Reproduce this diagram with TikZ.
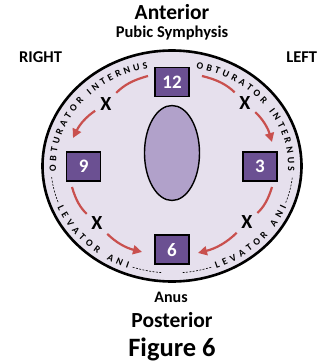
\documentclass[tikz,border=0pt]{standalone}
\usepackage{fontspec}
\setmainfont{Carlito}
\usetikzlibrary{decorations.text,arrows.meta}
\definecolor{lav}{HTML}{E6E0ED}
\definecolor{boxpurple}{HTML}{6B5092}
\definecolor{ovalc}{HTML}{B1A1CA}
\definecolor{arrred}{HTML}{C9504E}
\begin{document}
\begin{tikzpicture}[x=1pt,y=1pt,
  numbox/.style={draw=black,line width=1.6pt,fill=boxpurple,minimum width=34pt,minimum height=29pt,inner sep=0pt,text=white,font=\fontsize{19}{19}\selectfont\bfseries},
  xmark/.style={inner sep=1pt,font=\fontsize{20}{20}\selectfont\bfseries},
  redarc/.style={draw=arrred,line width=2.2pt},
  redarrow/.style={redarc,-{Triangle[length=9pt,width=9pt]}},
  lbl/.style={anchor=base,inner sep=0pt,font=\bfseries},
  dashline/.style={line width=0.6pt,dash pattern=on 2pt off 1.4pt},
  curvetext/.style={decorate,decoration={text along path,text align={fit to path},text={|\fontsize{9.8}{9.8}\selectfont\bfseries|#1}}}
]
\useasboundingbox (-172,-196) rectangle (157,166);
% outer ellipse
\draw[fill=lav,line width=2.6pt] (0,0) ellipse [x radius=129.5, y radius=115.5];
% curved labels
\path[curvetext={OBTURATOR INTERNUS}] (183:116 and 100) arc[start angle=183,end angle=102,x radius=116,y radius=100];
\path[curvetext={OBTURATOR INTERNUS}] (78:116 and 100) arc[start angle=78,end angle=-3,x radius=116,y radius=100];
\path[curvetext={LEVATOR ANI}] (202:123.5 and 110) arc[start angle=202,end angle=249,x radius=123.5,y radius=110];
\path[curvetext={LEVATOR ANI}] (291:123.5 and 110) arc[start angle=291,end angle=338,x radius=123.5,y radius=110];
\draw[dashline] (186:121 and 107) arc[start angle=186,end angle=200,x radius=121,y radius=107];
\draw[dashline] (251:121 and 107) arc[start angle=251,end angle=265,x radius=121,y radius=107];
\draw[dashline] (275:121 and 107) arc[start angle=275,end angle=289,x radius=121,y radius=107];
\draw[dashline] (340:121 and 107) arc[start angle=340,end angle=354,x radius=121,y radius=107];
% inner oval
\draw[fill=ovalc,line width=1.4pt] (0,13) ellipse [x radius=27.5, y radius=47.5];
% boxes
\node[numbox] (n12) at (0,84) {12};
\node[numbox] (n9) at (-88.3,-0.5) {9};
\node[numbox] (n3) at (88,-0.5) {3};
\node[numbox] (n6) at (0,-83.7) {6};
% X marks
\node[xmark] (xUL) at (-66,62) {X};
\node[xmark] (xUR) at (73,63) {X};
\node[xmark] (xLL) at (-75,-57) {X};
\node[xmark] (xLR) at (75,-56) {X};
% arrow ends
\coordinate (s1) at (-24,90);
\coordinate (t1) at (-99,28);
\coordinate (s2) at (30,90);
\coordinate (t2) at (100,24);
\coordinate (s3) at (-100,-21);
\coordinate (t3) at (-30,-86);
\coordinate (s4) at (100,-21);
\coordinate (t4) at (26,-87);
\draw[redarc,shorten >=5pt] (s1) to[bend right=15] (xUL);
\draw[redarrow,shorten <=5pt] (xUL) to[bend right=15] (t1);
\draw[redarc,shorten >=5pt] (s2) to[bend left=15] (xUR);
\draw[redarrow,shorten <=5pt] (xUR) to[bend left=15] (t2);
\draw[redarc,shorten >=5pt] (s3) to[bend right=15] (xLL);
\draw[redarrow,shorten <=5pt] (xLL) to[bend right=15] (t3);
\draw[redarc,shorten >=5pt] (s4) to[bend left=15] (xLR);
\draw[redarrow,shorten <=5pt] (xLR) to[bend left=15] (t4);
% labels
\node[lbl,font=\fontsize{21.5}{21.5}\selectfont\bfseries] (ant) at (0,146.7) {Anterior};
\node[lbl,font=\fontsize{16.5}{16.5}\selectfont\bfseries] (pub) at (0,128.3) {Pubic Symphysis};
\node[lbl,font=\fontsize{16.5}{16.5}\selectfont\bfseries] (right) at (-131.4,103.7) {RIGHT};
\node[lbl,font=\fontsize{16.5}{16.5}\selectfont\bfseries] (left) at (129.7,103.7) {LEFT};
\node[lbl,font=\fontsize{16}{16}\selectfont\bfseries] (anus) at (-1,-136.3) {Anus};
\node[lbl,font=\fontsize{21.5}{21.5}\selectfont\bfseries] (post) at (0,-161.7) {Posterior};
\node[lbl,font=\fontsize{26.5}{26.5}\selectfont\bfseries] (fig) at (0,-190.7) {Figure 6};
\end{tikzpicture}
\end{document}
